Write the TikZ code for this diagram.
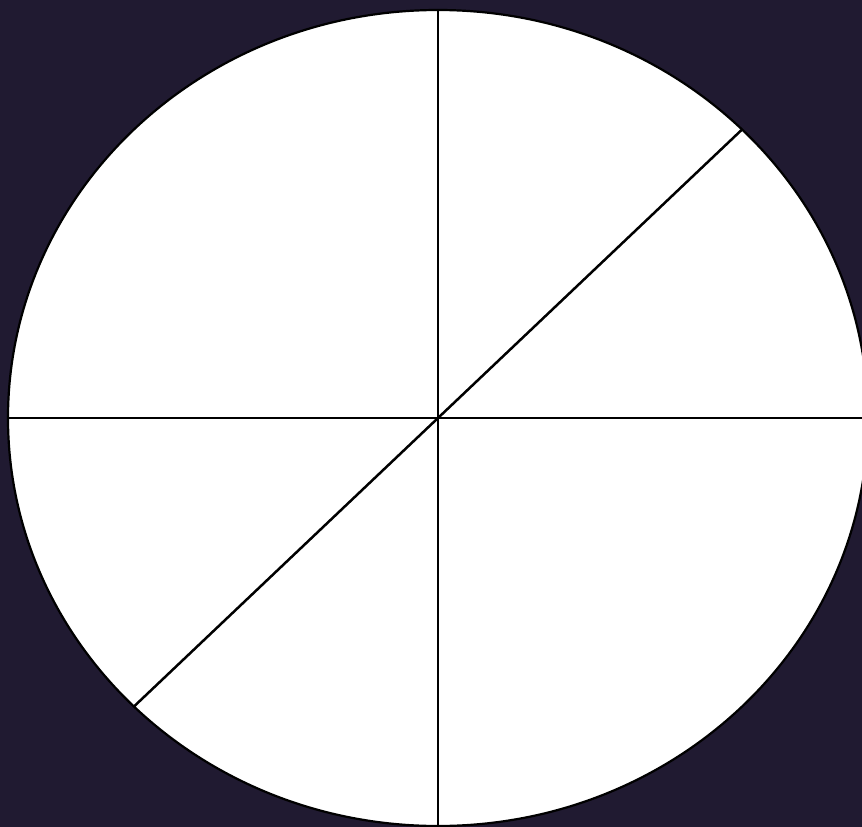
\documentclass[tikz,border=0pt]{standalone}
\usetikzlibrary{calc}
\definecolor{bgdark}{HTML}{201A31}
\definecolor{bgmid}{HTML}{2A2338}
\begin{document}
\begin{tikzpicture}[x=1pt,y=-1pt,
  rim/.style={draw=black,line width=2.2pt,fill=white},
  spoke/.style={draw=black,line width=2.5pt}]
\useasboundingbox (0,0) rectangle (862,827);
\clip (0,0) rectangle (862,827);
\fill[bgdark] (0,0) rectangle (862,827);
\shade[inner color=bgmid,outer color=bgdark,opacity=0.6] (438,418) ellipse (470 and 450);
\coordinate (c) at (438,418);
\path[rim] (c) ellipse (430 and 408);
\coordinate (t) at (438,10);
\coordinate (b) at (438,826);
\coordinate (l) at (8,418);
\coordinate (r) at (868,418);
\coordinate (ne) at ($(c)+(304.06,-288.5)$);
\coordinate (sw) at ($(c)+(-304.06,288.5)$);
\draw[spoke] (t) -- (b);
\draw[spoke] (l) -- (r);
\draw[spoke] (ne) -- (sw);
\end{tikzpicture}
\end{document}
